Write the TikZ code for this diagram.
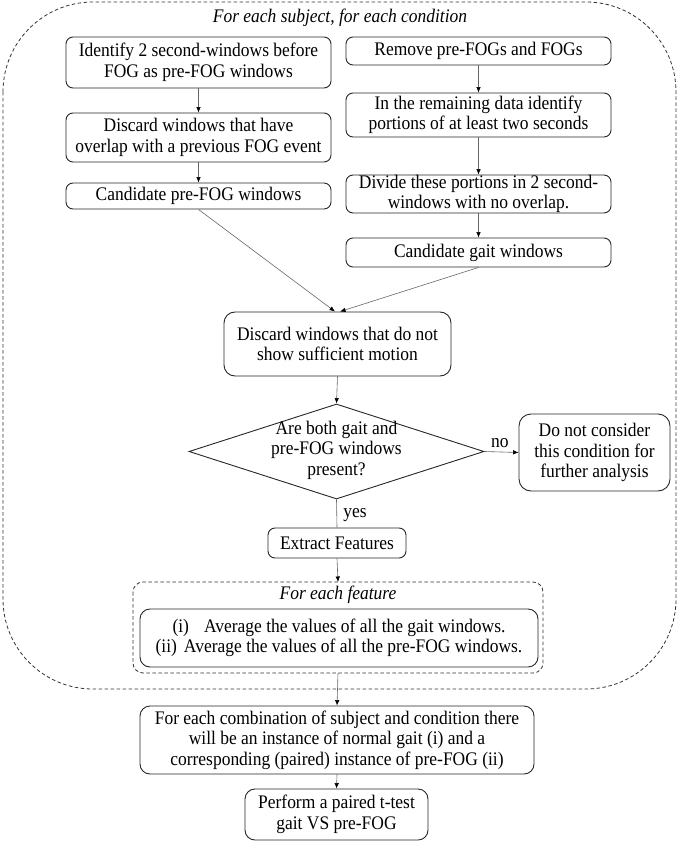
\documentclass[tikz,border=0pt]{standalone}
\usepackage{fontspec}
\setmainfont{Liberation Serif}[FakeStretch=0.91]
\usetikzlibrary{shapes.geometric,arrows.meta}
\begin{document}
\begin{tikzpicture}[x=1pt,y=-1pt,
  every node/.style={font=\fontsize{19.2}{20.5}\selectfont},
  stepbox/.style={draw=black!85, line width=0.9pt, rounded corners=7pt, align=center, inner sep=0pt},
  conn/.style={draw=black!60, line width=0.6pt},
  arr/.style={conn, -{Latex[length=5.5pt,width=4.5pt,color=black]}},
  dashbox/.style={draw=black!80, line width=0.8pt, dash pattern=on 3.5pt off 2.5pt}
]
\useasboundingbox (0,0) rectangle (679,842);

% outer dashed region
\draw[dashbox, rounded corners=90pt] (3,2) rectangle (676,689);
\node[font=\fontsize{19.2}{20.5}\selectfont\itshape] (title) at (340,18) {For each subject, for each condition};

% left column
\node[stepbox, minimum width=265pt, minimum height=51pt] (A) at (198.5,62.5) {Identify 2 second-windows before\\FOG as pre-FOG windows};
\node[stepbox, minimum width=265pt, minimum height=49pt] (D) at (198.5,137.5) {Discard windows that have\\overlap with a previous FOG event};
\node[stepbox, minimum width=265pt, minimum height=26pt] (F) at (198.5,196) {Candidate pre-FOG windows};

% right column
\node[stepbox, minimum width=265pt, minimum height=28pt] (B) at (478.5,51) {Remove pre-FOGs and FOGs};
\node[stepbox, minimum width=265pt, minimum height=44pt] (C) at (478.5,115) {In the remaining data identify\\portions of at least two seconds};
\node[stepbox, minimum width=265pt, minimum height=35pt] (E) at (478.5,194) {Divide these portions in 2 second-\\windows with no overlap.};
\node[stepbox, minimum width=265pt, minimum height=29pt] (G) at (478.5,252.5) {Candidate gait windows};

% merge
\node[stepbox, rounded corners=11pt, minimum width=227pt, minimum height=64pt] (H) at (337.5,344) {Discard windows that do not\\show sufficient motion};

% decision
\node[draw=black!85, line width=0.9pt, shape=diamond, minimum width=295pt, minimum height=95pt, inner sep=0pt] (dia) at (336.5,451.5) {};
\node[align=center] (diatext) at (336.5,450) {Are both gait and\\pre-FOG windows\\present?};
\node[stepbox, rounded corners=12pt, minimum width=151pt, minimum height=77pt] (N) at (594.5,452.5) {Do not consider\\this condition for\\further analysis};

\node[stepbox, minimum width=138pt, minimum height=30pt] (X) at (337,543) {Extract Features};

% inner dashed region
\draw[dashbox, rounded corners=10pt] (133,582) rectangle (543,673);
\coordinate (INn) at (338,582);
\coordinate (INs) at (338,673);
\node[font=\fontsize{19.2}{20.5}\selectfont\itshape] (feat) at (338,595) {For each feature};
\node[stepbox, rounded corners=10pt, minimum width=398pt, minimum height=58pt] (L) at (339,638)
  {(i)\hspace{15pt}Average the values of all the gait windows.\\(ii)\hspace{7pt}Average the values of all the pre-FOG windows.};

% bottom
\node[stepbox, rounded corners=10pt, minimum width=394pt, minimum height=68pt] (K) at (337,740)
  {For each combination of subject and condition there\\will be an instance of normal gait (i) and a\\corresponding (paired) instance of pre-FOG (ii)};
\node[stepbox, rounded corners=10pt, minimum width=183pt, minimum height=51pt] (P) at (336.5,814.5) {Perform a paired t-test\\gait VS pre-FOG};

% connectors
\draw[arr] (A) -- (D);
\draw[arr] (D) -- (F);
\draw[arr] (B) -- (C);
\draw[arr] (C) -- (E);
\draw[arr] (E) -- (G);
\draw[arr] (F.south) -- ([xshift=-2.5pt]H.north);
\draw[arr] (G.south) -- ([xshift=2.5pt]H.north);
\draw[arr] (H.south) -- (dia.north);
\draw[arr] (dia.east) -- node[above=1pt, pos=0.45] (nolab) {no} (N.west);
\draw[conn] (dia.south) -- node[right=3pt, pos=0.55] (yeslab) {yes} (X.north);
\draw[arr] (X.south) -- (INn);
\draw[arr] (INs) -- (K.north);
\draw[arr] (K.south) -- (P.north);
\end{tikzpicture}
\end{document}
